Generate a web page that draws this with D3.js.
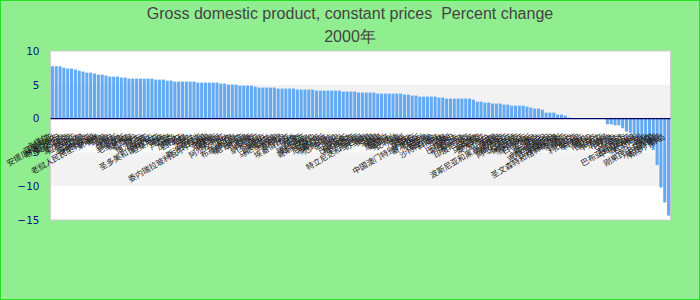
<!DOCTYPE html>
<html>
<head>
<meta charset="utf-8">
<script src="https://cdn.jsdelivr.net/npm/d3@7"></script>
<style>
html,body{margin:0;padding:0;background:#90EE90;}
svg{display:block;}
</style>
</head>
<body>
<svg id="chart" width="700" height="300"></svg>
<script>
const titleLines = ["Gross domestic product, constant prices  Percent change", "2000年"];

const categories = [
"卡塔尔","亚美尼亚","安提瓜和巴布达","塔吉克斯坦","莫桑比克","越南","爱沙尼亚","拉脱维亚","卢旺达","孟加拉国",
"多米尼克","格鲁吉亚","老挝人民民主共和国","柬埔寨","埃及","马里","印度","约旦","俄罗斯","乌克兰",
"毛里求斯","伯利兹","墨西哥","不丹","蒙古","博茨瓦纳","冈比亚","乌干达","圣多美和普林西比","坦桑尼亚",
"瑞典","芬兰","卢森堡","冰岛","加拿大","西班牙","希腊","荷兰","波兰","匈牙利",
"斯洛文尼亚","委内瑞拉玻利瓦尔共和国","泰国","菲律宾","突尼斯","摩洛哥","阿尔及利亚","加纳","贝宁","布基纳法索",
"塞内加尔","尼日利亚","喀麦隆","加蓬","肯尼亚","纳米比亚","南非","莱索托","斯威士兰","马达加斯加",
"科摩罗","吉布提","苏丹","埃塞俄比亚","智利","秘鲁","巴西","玻利维亚","厄瓜多尔","哥斯达黎加",
"巴拿马","尼加拉瓜","洪都拉斯","萨尔瓦多","危地马拉","牙买加","古巴","巴哈马","巴巴多斯","格林纳达",
"圣卢西亚","圭亚那","特立尼达和多巴哥","苏里南","美国","英国","法国","德国","意大利","葡萄牙",
"奥地利","比利时","丹麦","挪威","瑞士","马耳他","中国澳门特别行政区","塞浦路斯","以色列","土耳其",
"黎巴嫩","沙特阿拉伯","科威特","巴林","阿曼","伊朗","巴基斯坦","斯里兰卡","尼泊尔","马尔代夫",
"印度尼西亚","文莱","新加坡","马来西亚","澳大利亚","新西兰","日本","韩国","波斯尼亚和黑塞哥维那","克罗地亚",
"塞尔维亚","阿尔巴尼亚","北马其顿","保加利亚","罗马尼亚","摩尔多瓦","白俄罗斯","立陶宛","捷克","斯洛伐克",
"哈萨克斯坦","吉尔吉斯斯坦","土库曼斯坦","阿塞拜疆","圣文森特和格林纳丁斯","萨摩亚",
"阿富汗","伊拉克","利比里亚","索马里","科索沃","黑山","南苏丹","图瓦卢","东帝汶",
"阿根廷","乍得","布隆迪","巴拉圭","乌拉圭","斐济","科特迪瓦","巴布亚新几内亚","中非共和国","津巴布韦",
"瓦努阿图","汤加","海地","刚果民主共和国","几内亚比绍","厄立特里亚","所罗门群岛"
];

const values = [
7.74,7.74,7.74,7.54,7.40,7.40,7.25,7.10,6.95,6.80,
6.80,6.66,6.51,6.51,6.36,6.21,6.21,6.21,6.07,6.07,
5.92,5.92,5.92,5.92,5.92,5.92,5.92,5.77,5.77,5.77,
5.62,5.62,5.47,5.47,5.47,5.47,5.47,5.47,5.33,5.33,
5.33,5.33,5.33,5.33,5.18,5.18,5.03,5.03,5.03,4.88,
4.88,4.88,4.88,4.73,4.59,4.59,4.59,4.59,4.59,4.44,
4.44,4.44,4.44,4.44,4.29,4.29,4.29,4.29,4.29,4.14,
4.14,4.14,4.14,4.14,4.14,4.14,4.00,4.00,4.00,4.00,
3.85,3.85,3.85,3.85,3.85,3.70,3.70,3.70,3.70,3.70,
3.70,3.70,3.55,3.55,3.40,3.40,3.25,3.25,3.25,3.25,
3.25,3.11,3.11,2.96,2.96,2.96,2.96,2.96,2.96,2.96,
2.81,2.51,2.51,2.37,2.37,2.22,2.22,2.22,2.07,2.07,
1.92,1.92,1.92,1.92,1.78,1.63,1.48,1.48,1.33,0.89,
0.89,0.89,0.59,0.59,0.44,0.15,
null,null,null,null,null,null,null,null,null,
-0.84,-0.84,-0.99,-0.99,-1.43,-1.92,-2.10,-2.40,-2.70,-3.00,
-3.40,-3.90,-4.65,-6.88,-10.20,-12.40,-14.35
];

const yTicks = [10, 5, 0, -5, -10, -15];

(function () {
const svg = d3.select("#chart");
const W = 700, H = 300;
const pLeft = 50.5, pRight = 670.5, pTop = 51, pBottom = 220;

svg.append("rect").attr("x",0.5).attr("y",0.5).attr("width",W-1).attr("height",H-1)
  .attr("fill","#90EE90").attr("stroke","#22e022").attr("stroke-width",1);

const y = d3.scaleLinear().domain([-15, 10]).range([pBottom, pTop]);
const x = d3.scaleBand().domain(categories).range([pLeft, pRight]).paddingInner(0.2).paddingOuter(0.1);

// plot area
svg.append("rect").attr("x",pLeft).attr("y",pTop).attr("width",pRight-pLeft).attr("height",pBottom-pTop)
  .attr("fill","#fff");
// alternating bands
const bands = d3.pairs(yTicks);
svg.append("g").selectAll("rect").data(bands).join("rect")
  .attr("x", pLeft).attr("width", pRight-pLeft)
  .attr("y", d => y(d[0])).attr("height", d => y(d[1]) - y(d[0]))
  .attr("fill", (d,i) => i % 2 === 1 ? "#f2f2f2" : "#ffffff");
svg.append("rect").attr("x",pLeft).attr("y",pTop).attr("width",pRight-pLeft).attr("height",pBottom-pTop)
  .attr("fill","none").attr("stroke","#d0d0d0").attr("stroke-width",1);

// bars
const data = categories.map((c,i) => ({c, v: values[i]})).filter(d => d.v !== null);
svg.append("g").selectAll("rect").data(data).join("rect")
  .attr("x", d => x(d.c)).attr("width", x.bandwidth())
  .attr("y", d => y(Math.max(d.v, 0)))
  .attr("height", d => Math.abs(y(d.v) - y(0)))
  .attr("fill", "#64aaf2");

// zero line
svg.append("line").attr("x1",pLeft).attr("x2",pRight).attr("y1",y(0)).attr("y2",y(0))
  .attr("stroke","#000066").attr("stroke-width",1.3);

// y axis
const yAxis = svg.append("g").attr("transform",`translate(${pLeft},0)`)
  .call(d3.axisLeft(y).tickValues(yTicks).tickSize(0).tickPadding(11));
yAxis.select(".domain").remove();
yAxis.selectAll("text").attr("fill","#10108a").style("font-family","DejaVu Sans").style("font-size","10.5px");

// x axis labels
const xAxis = svg.append("g").attr("transform",`translate(0,${y(0)})`)
  .call(d3.axisBottom(x).tickSize(0).tickPadding(0));
xAxis.select(".domain").remove();
xAxis.selectAll(".tick text")
  .attr("y", 0).attr("dy", null)
  .attr("text-anchor","end")
  .attr("dominant-baseline","middle")
  .attr("transform","translate(-4,18) rotate(-30)")
  .attr("fill","#222")
  .style("font-family","Noto Sans CJK SC")
  .style("font-size","8px");

// title
svg.append("g").selectAll("text").data(titleLines).join("text")
  .attr("x", 350).attr("y", (d,i) => 18.5 + i*23)
  .attr("text-anchor","middle")
  .attr("fill","#444")
  .style("white-space","pre")
  .attr("xml:space","preserve")
  .style("font-family","Liberation Sans, Arial, sans-serif")
  .style("font-size","16px")
  .text(d => d);
})();
</script>
</body>
</html>
